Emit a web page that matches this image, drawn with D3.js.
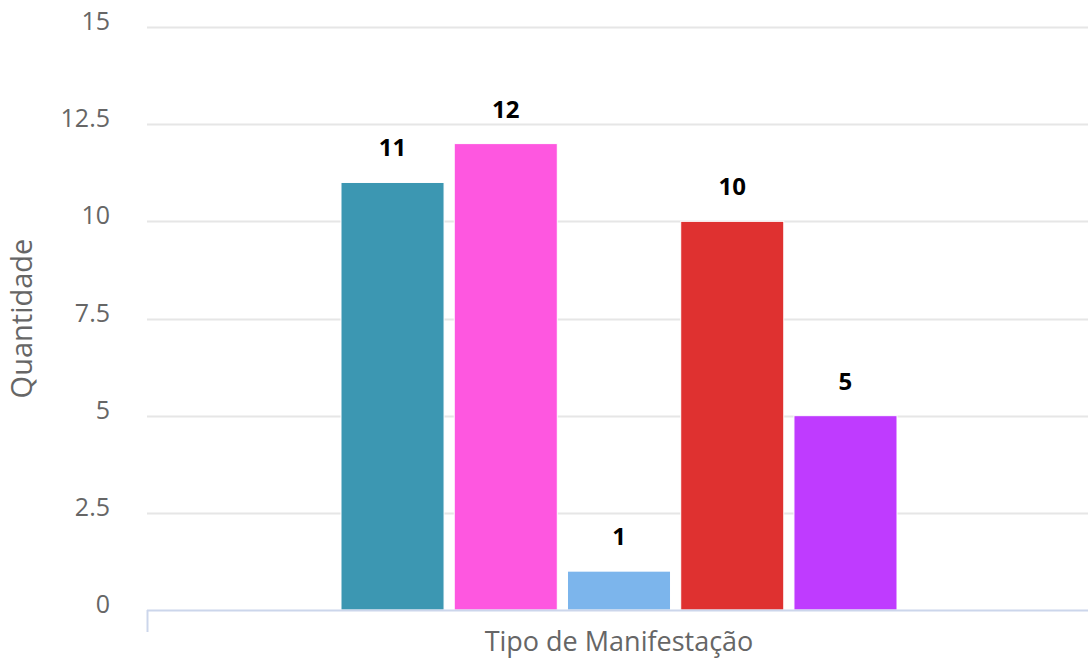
<!DOCTYPE html>
<html lang="pt">
  <head>
    <meta charset="utf-8" />
    <script src="https://d3js.org/d3.v7.min.js"></script>
    <style>
      body { margin: 0; background: #fff; }
      svg { display: block; font-family: 'Open Sans', 'DejaVu Sans', sans-serif; }
    </style>
  </head>
  <body>
    <svg id="chart" width="1088" height="659"></svg>
    <script>
      // data
      const category = 'Tipo de Manifestação';
      const seriesNames = ['A', 'B', 'C', 'D', 'E'];
      const seriesValues = [11, 12, 1, 10, 5];
      const seriesColors = ['#3c97b2', '#fe57e0', '#7cb5ec', '#df3130', '#bf3bff'];
      const yTicks = [0, 2.5, 5, 7.5, 10, 12.5, 15];

      const svg = d3.select('#chart');
      const plotLeft = 147, plotRight = 1091, plotTop = 27, plotBottom = 610;

      const y = d3.scaleLinear().domain([0, 15]).range([plotBottom, plotTop]);
      const x0 = d3.scaleBand().domain([category]).range([plotLeft, plotRight]).padding(0);
      const x1 = d3.scaleBand()
        .domain(seriesNames)
        .range([x0(category) + 194, x0(category) + x0.bandwidth() - 194])
        .paddingInner(0.09);

      // grid
      svg.append('g')
        .selectAll('line')
        .data(yTicks.filter(d => d > 0))
        .join('line')
        .attr('x1', plotLeft).attr('x2', plotRight)
        .attr('y1', d => Math.round(y(d)) + 0.5).attr('y2', d => Math.round(y(d)) + 0.5)
        .attr('stroke', '#e6e6e6').attr('stroke-width', 2);

      // y axis labels
      svg.append('g')
        .selectAll('text')
        .data(yTicks)
        .join('text')
        .attr('x', 110)
        .attr('y', d => y(d) + 3)
        .attr('text-anchor', 'end')
        .attr('fill', '#666666')
        .style('font-size', '25px')
        .text(d => d3.format('~g')(d));

      svg.append('text')
        .attr('transform', `translate(32,${(plotTop + plotBottom) / 2}) rotate(-90)`)
        .attr('text-anchor', 'middle')
        .attr('fill', '#666666')
        .style('font-size', '29px')
        .text('Quantidade');

      // bars
      svg.append('g')
        .selectAll('rect')
        .data(seriesValues)
        .join('rect')
        .attr('x', (d, i) => x1(seriesNames[i]))
        .attr('y', d => y(d))
        .attr('width', x1.bandwidth())
        .attr('height', d => plotBottom - y(d))
        .attr('fill', (d, i) => seriesColors[i])
        .attr('stroke', '#ffffff')
        .attr('stroke-width', 1);

      // data labels
      svg.append('g')
        .selectAll('text')
        .data(seriesValues)
        .join('text')
        .attr('x', (d, i) => x1(seriesNames[i]) + x1.bandwidth() / 2)
        .attr('y', d => y(d) - 26)
        .attr('text-anchor', 'middle')
        .attr('fill', '#000')
        .attr('stroke', '#fff')
        .attr('stroke-width', 3)
        .attr('paint-order', 'stroke')
        .style('font-size', '24px')
        .style('font-weight', 'bold')
        .text(d => d);

      // x axis
      svg.append('line')
        .attr('x1', plotLeft).attr('x2', plotRight)
        .attr('y1', plotBottom + 0.5).attr('y2', plotBottom + 0.5)
        .attr('stroke', '#ccd6eb').attr('stroke-width', 2);
      svg.append('line')
        .attr('x1', plotLeft + 0.5).attr('x2', plotLeft + 0.5)
        .attr('y1', plotBottom).attr('y2', plotBottom + 22)
        .attr('stroke', '#ccd6eb').attr('stroke-width', 2);

      svg.append('text')
        .attr('x', x0(category) + x0.bandwidth() / 2)
        .attr('y', 651)
        .attr('text-anchor', 'middle')
        .attr('fill', '#666666')
        .style('font-size', '27px')
        .text(category);
    </script>
  </body>
</html>
